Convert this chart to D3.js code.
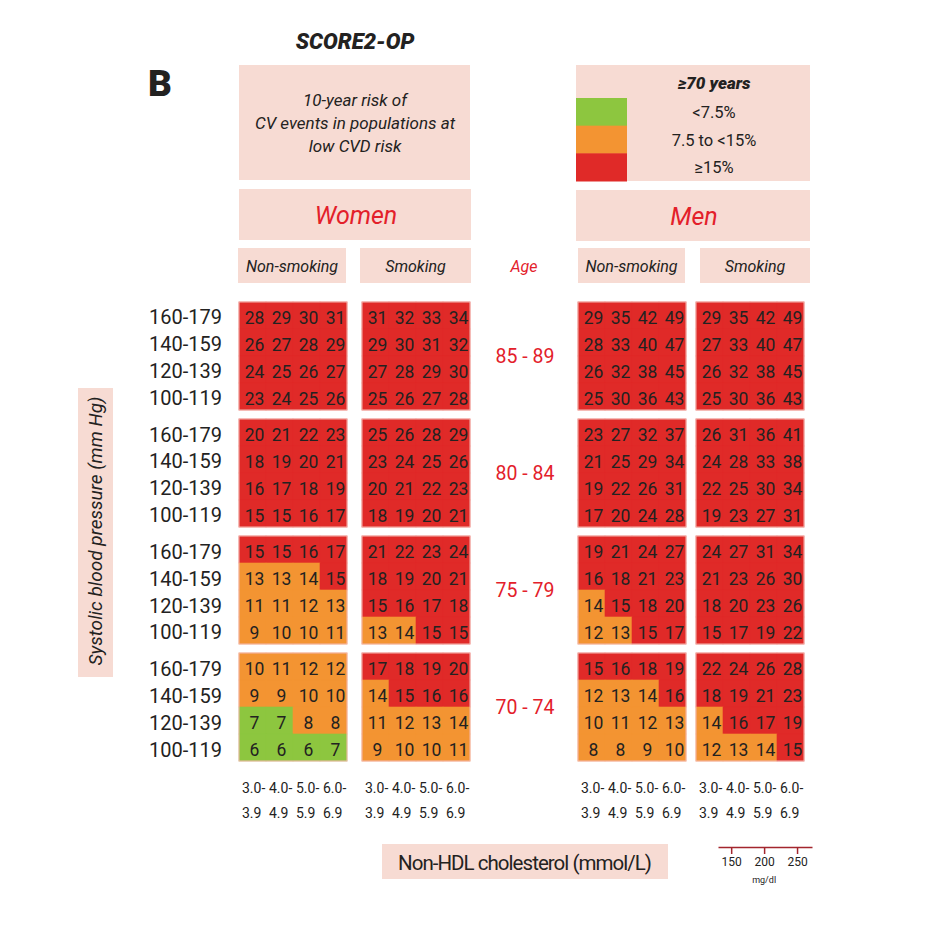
<!DOCTYPE html>
<html lang="en">
<head>
<meta charset="UTF-8">
<title>SCORE2-OP</title>
<style>
  body { margin: 0; background: #fff; }
  text { font-family: Roboto, "Liberation Sans", sans-serif; fill: #232221; font-weight: 400; }
  .red { fill: #e3202a; }
  .it { font-style: italic; }
</style>
</head>
<body>
<svg width="947" height="932"></svg>
<script src="https://cdn.jsdelivr.net/npm/d3@7"></script>
<script>

  // ---- data ----
  var ageGroups = ["85 - 89", "80 - 84", "75 - 79", "70 - 74"];
  var sbpLabels = ["160-179", "140-159", "120-139", "100-119"];
  var cholLow = ["3.0-", "4.0-", "5.0-", "6.0-"];
  var cholHigh = ["3.9", "4.9", "5.9", "6.9"];
  var riskLabels = ["<7.5%", "7.5 to <15%", "\u226515%"];
  var riskCuts = [7.5, 15];
  var mgdlTicks = [150, 200, 250];

  // one 4x4 block per age group, rows = SBP (high to low), cols = cholesterol
  var womenNonSmoking = [
    [[28, 29, 30, 31], [26, 27, 28, 29], [24, 25, 26, 27], [23, 24, 25, 26]],
    [[20, 21, 22, 23], [18, 19, 20, 21], [16, 17, 18, 19], [15, 15, 16, 17]],
    [[15, 15, 16, 17], [13, 13, 14, 15], [11, 11, 12, 13], [9, 10, 10, 11]],
    [[10, 11, 12, 12], [9, 9, 10, 10], [7, 7, 8, 8], [6, 6, 6, 7]]
  ];
  var womenSmoking = [
    [[31, 32, 33, 34], [29, 30, 31, 32], [27, 28, 29, 30], [25, 26, 27, 28]],
    [[25, 26, 28, 29], [23, 24, 25, 26], [20, 21, 22, 23], [18, 19, 20, 21]],
    [[21, 22, 23, 24], [18, 19, 20, 21], [15, 16, 17, 18], [13, 14, 15, 15]],
    [[17, 18, 19, 20], [14, 15, 16, 16], [11, 12, 13, 14], [9, 10, 10, 11]]
  ];
  var menNonSmoking = [
    [[29, 35, 42, 49], [28, 33, 40, 47], [26, 32, 38, 45], [25, 30, 36, 43]],
    [[23, 27, 32, 37], [21, 25, 29, 34], [19, 22, 26, 31], [17, 20, 24, 28]],
    [[19, 21, 24, 27], [16, 18, 21, 23], [14, 15, 18, 20], [12, 13, 15, 17]],
    [[15, 16, 18, 19], [12, 13, 14, 16], [10, 11, 12, 13], [8, 8, 9, 10]]
  ];
  var menSmoking = [
    [[29, 35, 42, 49], [27, 33, 40, 47], [26, 32, 38, 45], [25, 30, 36, 43]],
    [[26, 31, 36, 41], [24, 28, 33, 38], [22, 25, 30, 34], [19, 23, 27, 31]],
    [[24, 27, 31, 34], [21, 23, 26, 30], [18, 20, 23, 26], [15, 17, 19, 22]],
    [[22, 24, 26, 28], [18, 19, 21, 23], [14, 16, 17, 19], [12, 13, 14, 15]]
  ];

  var panels = [
    {key: "wn", values: womenNonSmoking},
    {key: "ws", values: womenSmoking},
    {key: "mn", values: menNonSmoking},
    {key: "ms", values: menSmoking}
  ];

  var pink = "#f7dbd3";
  var riskColor = d3.scaleThreshold().domain(riskCuts).range(["#8dc63f", "#f39432", "#e02a28"]);

  var svg = d3.select("svg");

  // ---- scales ----
  var panelX = d3.scaleOrdinal().domain(["wn", "ws", "mn", "ms"]).range([239, 362, 578, 696]);
  var colX = d3.scaleBand().domain(d3.range(4)).range([0, 108]);
  var blockY = d3.scaleBand().domain(ageGroups).range([302, 761]).paddingInner(0.077);
  var rowY = d3.scaleBand().domain(sbpLabels).range([0, blockY.bandwidth()]);

  // ---- header ----
  svg.append("text").attr("x", 355).attr("y", 49).attr("text-anchor", "middle")
     .style("font-size", "22px").style("font-weight", 900).attr("class", "it")
     .text("SCORE2-OP");
  svg.append("text").attr("x", 148).attr("y", 96)
     .style("font-size", "37px").style("font-weight", 900)
     .text("B");

  function box(x, y, w, h) {
    svg.append("rect").attr("x", x).attr("y", y).attr("width", w).attr("height", h).attr("fill", pink);
  }

  box(239, 65, 231, 115);
  ["10-year risk of", "CV events in populations at", "low CVD risk"].forEach(function(t, i) {
    svg.append("text").attr("x", 355).attr("y", 106 + i * 23).attr("text-anchor", "middle")
       .attr("class", "it").style("font-size", "17px").text(t);
  });

  // legend
  box(576, 65, 234, 116);
  svg.append("text").attr("x", 714).attr("y", 89).attr("text-anchor", "middle")
     .attr("class", "it").style("font-size", "17px").style("font-weight", 900)
     .text("\u226570 years");
  var legendY = d3.scaleBand().domain(riskLabels).range([98, 181]);
  svg.selectAll(".swatch").data(riskLabels).enter().append("rect")
     .attr("x", 576).attr("y", function(d) { return legendY(d); })
     .attr("width", 51).attr("height", legendY.bandwidth() + 0.5)
     .attr("fill", function(d, i) { return riskColor.range()[i]; });
  svg.selectAll(".legtext").data(riskLabels).enter().append("text")
     .attr("x", 714).attr("y", function(d) { return legendY(d) + legendY.bandwidth() / 2 + 6; })
     .attr("text-anchor", "middle").style("font-size", "16.5px")
     .text(function(d) { return d; });

  // sex boxes
  box(239, 189, 232, 51);
  svg.append("text").attr("x", 356).attr("y", 224).attr("text-anchor", "middle")
     .attr("class", "it red").style("font-size", "25px").text("Women");
  box(576, 190, 234, 51);
  svg.append("text").attr("x", 694).attr("y", 225).attr("text-anchor", "middle")
     .attr("class", "it red").style("font-size", "25px").text("Men");

  // smoking boxes
  var smokeBoxes = [
    {x: 238, w: 108, t: "Non-smoking"}, {x: 360, w: 111, t: "Smoking"},
    {x: 578, w: 107, t: "Non-smoking"}, {x: 700, w: 110, t: "Smoking"}
  ];
  smokeBoxes.forEach(function(b) {
    box(b.x, 248, b.w, 35);
    svg.append("text").attr("x", b.x + b.w / 2).attr("y", 272).attr("text-anchor", "middle")
       .attr("class", "it").style("font-size", "16px").text(b.t);
  });
  svg.append("text").attr("x", 524).attr("y", 272).attr("text-anchor", "middle")
     .attr("class", "it red").style("font-size", "16px").text("Age");

  // ---- y label ----
  box(78, 388, 35, 289);
  svg.append("text").attr("transform", "translate(102,531) rotate(-90)")
     .attr("text-anchor", "middle").attr("class", "it").style("font-size", "19px")
     .text("Systolic blood pressure (mm Hg)");

  // ---- grids ----
  ageGroups.forEach(function(age, ai) {
    var by = blockY(age);

    sbpLabels.forEach(function(s) {
      svg.append("text").attr("x", 222).attr("y", by + rowY(s) + rowY.bandwidth() / 2 + 9)
         .attr("text-anchor", "end").style("font-size", "20px").text(s);
    });

    svg.append("text").attr("x", 525).attr("y", by + blockY.bandwidth() / 2 + 7)
       .attr("text-anchor", "middle").attr("class", "red").style("font-size", "19.5px").text(age);

    panels.forEach(function(p) {
      var g = svg.append("g").attr("transform", "translate(" + panelX(p.key) + "," + by + ")");
      var cells = [];
      p.values[ai].forEach(function(row, ri) {
        row.forEach(function(v, ci) { cells.push({r: sbpLabels[ri], c: ci, v: v}); });
      });
      g.selectAll("rect.cell").data(cells).enter().append("rect")
       .attr("class", "cell")
       .attr("x", function(d) { return colX(d.c); })
       .attr("y", function(d) { return rowY(d.r); })
       .attr("width", colX.bandwidth()).attr("height", rowY.bandwidth())
       .attr("fill", function(d) { return riskColor(d.v); })
       .attr("stroke", function(d) { return riskColor(d.v); }).attr("stroke-width", 0.6);
      g.append("rect").attr("width", 108).attr("height", blockY.bandwidth())
       .attr("fill", "none").attr("stroke", "#f4b8b0").attr("stroke-width", 1);
      g.selectAll("text").data(cells).enter().append("text")
       .attr("x", function(d) { return colX(d.c) + colX.bandwidth() / 2 + 2; })
       .attr("y", function(d) { return rowY(d.r) + rowY.bandwidth() / 2 + 8.5; })
       .attr("text-anchor", "middle").style("font-size", "17.5px")
       .text(function(d) { return d.v; });
    });
  });

  // ---- cholesterol column labels ----
  panels.forEach(function(p) {
    var g = svg.append("g").attr("transform", "translate(" + panelX(p.key) + ",0)");
    g.selectAll("text.lo").data(cholLow).enter().append("text")
     .attr("x", function(d, i) { return colX(i) + 3; }).attr("y", 793)
     .style("font-size", "14px").text(function(d) { return d; });
    g.selectAll("text.hi").data(cholHigh).enter().append("text")
     .attr("x", function(d, i) { return colX(i) + 3; }).attr("y", 818)
     .style("font-size", "14px").text(function(d) { return d; });
  });

  box(382, 844, 286, 35);
  svg.append("text").attr("x", 525).attr("y", 870).attr("text-anchor", "middle")
     .style("font-size", "20.5px").attr("textLength", 254).text("Non-HDL cholesterol (mmol/L)");

  // ---- mg/dl scale ----
  var mgdl = d3.scaleLinear().domain([130, 272.7]).range([718, 812]);
  var mgAxis = svg.append("g").attr("transform", "translate(0,847)")
     .call(d3.axisBottom(mgdl).tickValues(mgdlTicks).tickSize(7).tickSizeOuter(0).tickPadding(3));
  mgAxis.select(".domain").attr("stroke", "#a3262d").attr("stroke-width", 1.5);
  mgAxis.selectAll(".tick line").attr("stroke", "#a3262d").attr("stroke-width", 1.5);
  mgAxis.selectAll(".tick text").style("font-family", "Roboto, sans-serif").style("font-size", "12px").attr("fill", "#232221");
  svg.append("text").attr("x", mgdl(200)).attr("y", 883).attr("text-anchor", "middle")
     .style("font-size", "9px").text("mg/dl");

</script>
</body>
</html>
